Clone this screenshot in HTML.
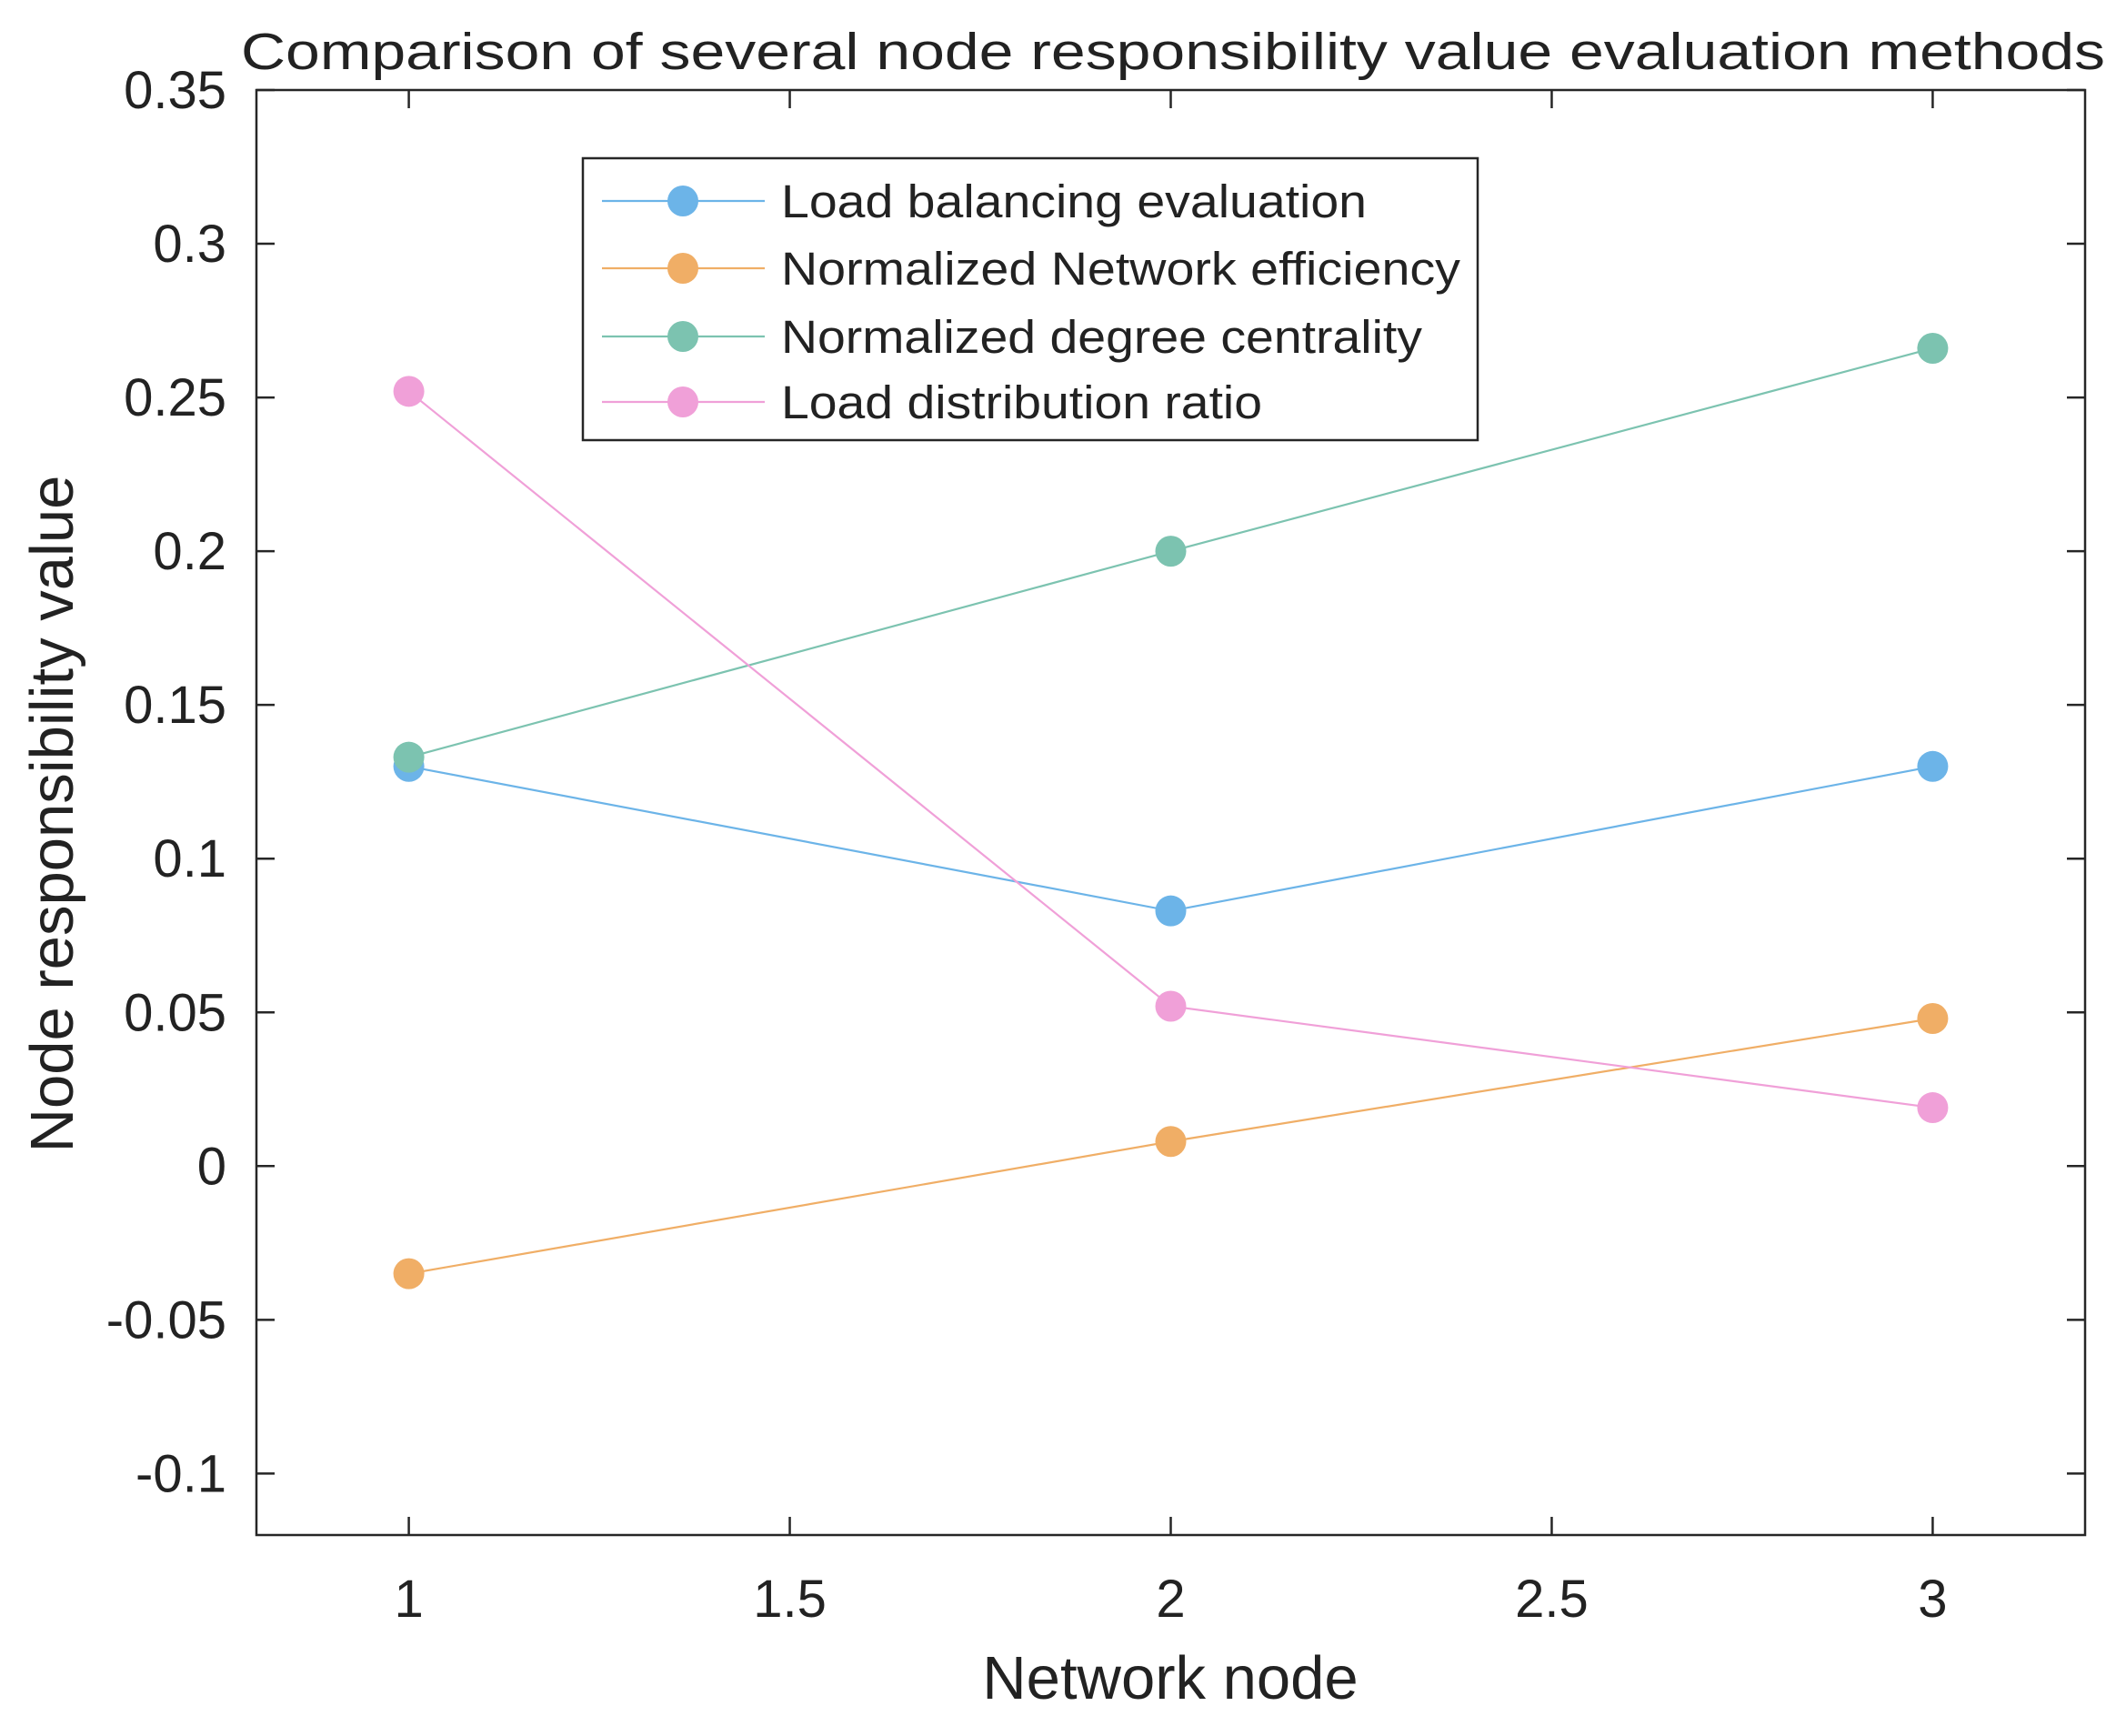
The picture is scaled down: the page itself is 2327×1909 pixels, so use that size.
<!DOCTYPE html>
<html><head><meta charset="utf-8"><style>
html,body{margin:0;padding:0;background:#fff}
svg text{font-family:"Liberation Sans",Arial,sans-serif;fill:#222}
</style></head><body>
<svg id="chart" width="2327" height="1904" viewBox="0 0 2327 1904" xmlns="http://www.w3.org/2000/svg">
<rect width="2327" height="1904" fill="#fff"/>
<g id="grid"></g>
<g id="series"></g>
<g id="legend"></g>
</svg>
<script>
const categories = [1, 2, 3];
const loadBalancing = [0.130, 0.083, 0.130];
const networkEfficiency = [-0.035, 0.008, 0.048];
const degreeCentrality = [0.133, 0.200, 0.266];
const loadDistribution = [0.252, 0.052, 0.019];
const yTicks = [-0.1, -0.05, 0, 0.05, 0.1, 0.15, 0.2, 0.25, 0.3, 0.35];
const yTickLabels = ["-0.1","-0.05","0","0.05","0.1","0.15","0.2","0.25","0.3","0.35"];
const xTicks = [1, 1.5, 2, 2.5, 3];
const xTickLabels = ["1","1.5","2","2.5","3"];
const seriesNames = ["Load balancing evaluation","Normalized Network efficiency","Normalized degree centrality","Load distribution ratio"];

const NS="http://www.w3.org/2000/svg";
const L=282,R=2293,T=99,B=1688;
const xMin=0.8,xMax=3.2,yMin=-0.12,yMax=0.35;
const xs=v=>L+(v-xMin)/(xMax-xMin)*(R-L);
const ys=v=>B-(v-yMin)/(yMax-yMin)*(B-T);
function mk(tag,attrs,parent){const e=document.createElementNS(NS,tag);for(const k in attrs)e.setAttribute(k,attrs[k]);parent.appendChild(e);return e;}
const svg=document.getElementById('chart');
const grid=document.getElementById('grid');
const ser=document.getElementById('series');
const leg=document.getElementById('legend');

let t=mk('text',{x:1290,y:76,'font-size':57,'text-anchor':'middle',textLength:2050,lengthAdjust:'spacingAndGlyphs'},svg);
t.textContent='Comparison of several node responsibility value evaluation methods';



let box=mk('rect',{x:L,y:T,width:R-L,height:B-T,fill:'none',stroke:'#262626','stroke-width':2.5},grid);



yTicks.forEach((v,i)=>{
  const y=ys(v);
  let tk=mk('path',{d:`M${L} ${y}H${L+20}M${R} ${y}H${R-20}`,stroke:'#262626','stroke-width':2.5},grid);
  
  
  let lb=mk('text',{x:249,y:y+20,'font-size':58,'text-anchor':'end'},grid);
  lb.textContent=yTickLabels[i];
  
  
});
xTicks.forEach((v,i)=>{
  const x=xs(v);
  let tk=mk('path',{d:`M${x} ${B}V${B-20}M${x} ${T}V${T+20}`,stroke:'#262626','stroke-width':2.5},grid);
  
  
  let lb=mk('text',{x:x,y:1778,'font-size':58,'text-anchor':'middle'},grid);
  lb.textContent=xTickLabels[i];
  
  
});

let xl=mk('text',{x:1287,y:1868,'font-size':67,'text-anchor':'middle'},svg);
xl.textContent='Network node';


let yl=mk('text',{x:0,y:0,'font-size':67,'text-anchor':'middle',transform:'translate(80,895) rotate(-90)'},svg);
yl.textContent='Node responsibility value';



const allSeries=[loadBalancing,networkEfficiency,degreeCentrality,loadDistribution];
const colors=['#6cb4e8','#f0ae66','#7cc3b0','#f0a0d8'];
const keys=['load-balancing','network-efficiency','degree-centrality','load-distribution'];
allSeries.forEach((vals,si)=>{
  let pl=mk('polyline',{points:vals.map((v,i)=>xs(categories[i])+','+ys(v)).join(' '),fill:'none',stroke:colors[si],'stroke-width':2.2},ser);
  
  
});
allSeries.forEach((vals,si)=>{
  vals.forEach((v,i)=>{
    let c=mk('circle',{cx:xs(categories[i]),cy:ys(v),r:17,fill:colors[si]},ser);
    
    
  });
});

let lbx=mk('rect',{x:641,y:174,width:984,height:310,fill:'#fff',stroke:'#262626','stroke-width':2.5},leg);


const legY=[221,295,370,442];
const legW=[644,747,705,529];
seriesNames.forEach((n,i)=>{
  const y=legY[i];
  let ln=mk('line',{x1:662,x2:841,y1:y,y2:y,stroke:colors[i],'stroke-width':2.2},leg);
  
  
  let c=mk('circle',{cx:751,cy:y,r:17,fill:colors[i]},leg);
  
  
  let tx=mk('text',{x:859,y:y+18,'font-size':51,textLength:legW[i],lengthAdjust:'spacingAndGlyphs'},leg);
  tx.textContent=n;
  
  
});
</script>
</body></html>
